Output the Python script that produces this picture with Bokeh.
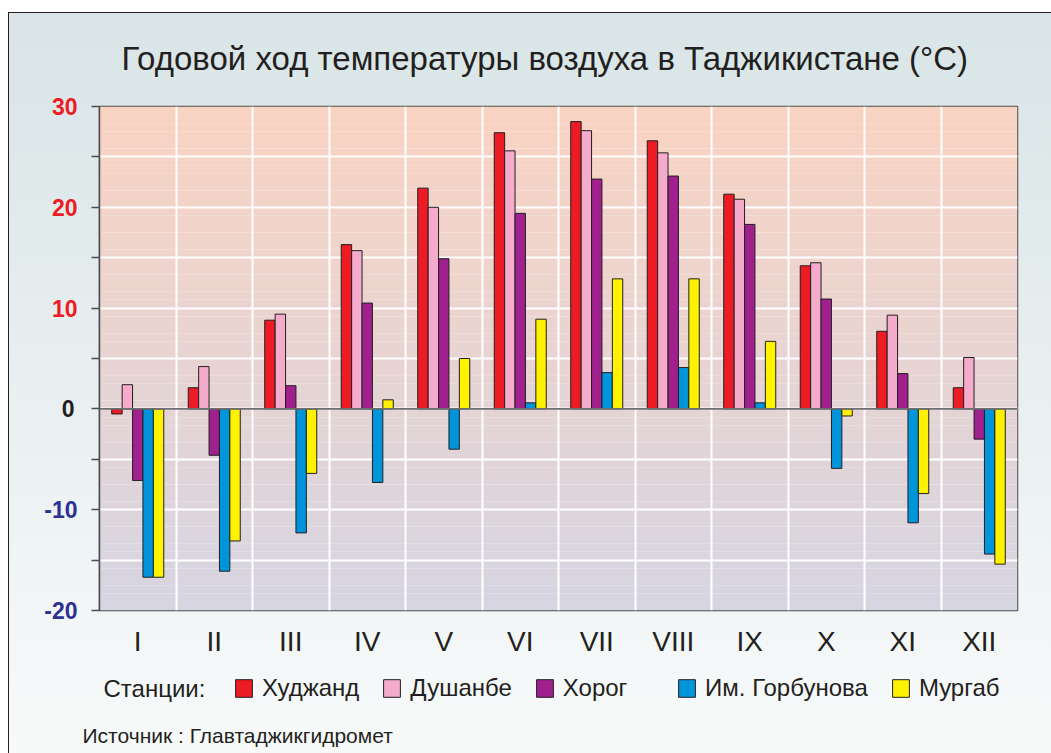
import numpy as np
from bokeh.plotting import figure
from bokeh.layouts import column
from bokeh.models import (ColumnDataSource, FactorRange, Range1d, FixedTicker, LinearAxis,
                          Legend, LegendItem, Span, Label)
from bokeh.transform import dodge
from bokeh.embed import file_html
from bokeh.resources import INLINE

months = ["I", "II", "III", "IV", "V", "VI", "VII", "VIII", "IX", "X", "XI", "XII"]
khujand = [-0.5, 2.1, 8.8, 16.3, 21.9, 27.4, 28.5, 26.6, 21.3, 14.2, 7.7, 2.1]
dushanbe = [2.4, 4.2, 9.4, 15.7, 20.0, 25.6, 27.6, 25.4, 20.8, 14.5, 9.3, 5.1]
khorog = [-7.1, -4.6, 2.3, 10.5, 14.9, 19.4, 22.8, 23.1, 18.3, 10.9, 3.5, -3.0]
gorbunova = [-16.7, -16.1, -12.3, -7.3, -4.0, 0.6, 3.6, 4.1, 0.6, -5.9, -11.3, -14.4]
murgab = [-16.7, -13.1, -6.4, 0.9, 5.0, 8.9, 12.9, 12.9, 6.7, -0.7, -8.4, -15.4]

station_names = ["Худжанд", "Душанбе", "Хорог", "Им. Горбунова", "Мургаб"]
station_colors = ["#ed1c24", "#f5abcc", "#a0218e", "#0095da", "#fff200"]
pos_labels = [30, 20, 10]
zero_label = [0]
neg_labels = [-10, -20]

FONT = "Liberation Sans"
INK = "#231f20"

src = ColumnDataSource(dict(month=months, khujand=khujand, dushanbe=dushanbe,
                            khorog=khorog, gorbunova=gorbunova, murgab=murgab))

p = figure(width=1051, height=660, x_range=FactorRange(factors=months),
           y_range=Range1d(-20, 30), output_backend="svg", toolbar_location=None,
           min_border_left=99, min_border_right=34, min_border_top=106, min_border_bottom=50)
p.border_fill_alpha = 0

# gradient plot background (decorative)
top_c = np.array([0xf9, 0xd3, 0xc2])
bot_c = np.array([0xd6, 0xd5, 0xe2])
n = 60
edges = np.linspace(-20, 30, n + 1)
cols = []
for i in range(n):
    f = ((edges[i] + edges[i + 1]) / 2 + 20) / 50
    c = bot_c + (top_c - bot_c) * f
    cols.append("#%02x%02x%02x" % tuple(int(round(v)) for v in c))
bg = p.quad(left=0, right=len(months), bottom=edges[:-1], top=edges[1:],
            fill_color=cols, line_color=None)
bg.level = "image"

# grid
p.ygrid.ticker = FixedTicker(ticks=list(range(-20, 31, 5)))
p.ygrid.grid_line_color = "white"
p.ygrid.grid_line_width = 2
p.xgrid.ticker = FixedTicker(ticks=list(range(1, len(months))))
p.xgrid.grid_line_color = "white"
p.xgrid.grid_line_width = 2

p.outline_line_color = "#4d4d4f"
p.outline_line_width = 1.5

# bars
w = 0.136
series = ["khujand", "dushanbe", "khorog", "gorbunova", "murgab"]
for i, (s, c) in enumerate(zip(series, station_colors)):
    p.vbar(x=dodge("month", (i - 2) * w, range=p.x_range), top=s, bottom=0, width=w,
           source=src, fill_color=c, line_color=INK, line_width=1)

p.add_layout(Span(location=0, dimension="width", line_color="#6d6e70", line_width=1.8))

# y axes: inner one with ticks and red labels; two more with shifted labels
ya = p.yaxis[0]
ya.ticker = FixedTicker(ticks=list(range(-20, 31, 5)))
ya.major_label_overrides = {t: (str(t) if t in pos_labels else "") for t in range(-20, 31, 5)}
ya.axis_line_color = "#4d4d4f"
ya.axis_line_width = 1.5
ya.major_tick_line_color = "#4d4d4f"
ya.major_tick_line_width = 1.5
ya.major_tick_out = 8
ya.major_tick_in = 0
ya.minor_tick_line_color = None
ya.major_label_standoff = 14
ya.major_label_text_font = FONT
ya.major_label_text_font_size = "23px"
ya.major_label_text_font_style = "bold"
ya.major_label_text_color = "#ed1c24"

yneg = LinearAxis(ticker=FixedTicker(ticks=neg_labels), axis_line_color=None,
                  major_label_overrides={t: str(t) for t in neg_labels},
                  major_tick_line_color=None, minor_tick_line_color=None,
                  major_tick_out=0, major_tick_in=0, minor_tick_out=0, minor_tick_in=0,
                  major_label_standoff=-29, major_label_text_font=FONT,
                  major_label_text_font_size="23px", major_label_text_font_style="bold",
                  major_label_text_color="#2e3192")
p.add_layout(yneg, "left")
yzero = LinearAxis(ticker=FixedTicker(ticks=zero_label), axis_line_color=None,
                   major_tick_line_color=None, minor_tick_line_color=None,
                   major_tick_out=0, major_tick_in=0, minor_tick_out=0, minor_tick_in=0,
                   major_label_standoff=-33, major_label_text_font=FONT,
                   major_label_text_font_size="23px", major_label_text_font_style="bold",
                   major_label_text_color=INK)
p.add_layout(yzero, "left")

# x axis
p.xaxis.axis_line_color = None
p.xaxis.major_tick_line_color = None
p.xaxis.major_tick_out = 0
p.xaxis.major_label_text_font = FONT
p.xaxis.major_label_text_font_size = "28px"
p.xaxis.major_label_text_color = INK
p.xaxis.major_label_standoff = 15

# title
p.title.text = "Годовой ход температуры воздуха в Таджикистане (°C)\u00a0\u00a0\u00a0"
p.title.align = "center"
p.title.text_font = FONT
p.title.text_font_size = "33px"
p.title.text_font_style = "normal"
p.title.text_color = INK
p.title.standoff = 60

# bottom strip: legend row and source
can_unalign = "frame_align" in figure().properties()
xr = Range1d(0, 1051) if can_unalign else Range1d(99, 1017)
q = figure(width=1051, height=93, x_range=xr, y_range=Range1d(0, 93),
           output_backend="svg", toolbar_location=None, min_border=0,
           x_axis_location=None, y_axis_location=None)
if can_unalign:
    q.frame_align = False
q.grid.visible = False
q.outline_line_color = None
q.background_fill_alpha = 0
q.border_fill_alpha = 0

# legend keys: one hidden sample per station (outside the visible range)
swatches = [q.vbar(x=[-50], top=[-10], bottom=[-20], width=1, fill_color=c,
                   line_color=INK, line_width=1) for c in station_colors]
labels = [station_names[0], station_names[1], station_names[2] + "    ",
          station_names[3], station_names[4]]
legend_x = 233 if can_unalign else 233 - 99
legend = Legend(items=[LegendItem(label=l, renderers=[r]) for l, r in zip(labels, swatches)],
                orientation="horizontal", location=(legend_x, 51),
                background_fill_alpha=0, border_line_color=None,
                glyph_width=21, glyph_height=22, label_standoff=8, spacing=22,
                padding=0, margin=0, label_text_font=FONT, label_text_font_size="24px",
                label_text_color=INK)
q.add_layout(legend)

q.add_layout(Label(x=103, y=65, text="Станции:", text_align="left", text_baseline="middle",
                   text_font=FONT, text_font_size="24px", text_color=INK))
q.add_layout(Label(x=82 if can_unalign else 100, y=18, text="Источник : Главтаджикгидромет",
                   text_align="left", text_baseline="middle", text_font=FONT,
                   text_font_size="21px", text_color=INK))

page = column(p, q, spacing=0,
              styles={"background": "linear-gradient(#d8e4e6, #f8fafa)",
                      "box-shadow": "inset 8px 12px 0 #ffffff, inset 9px 13px 0 #231f20"})

open("out.html", "w").write(file_html(page, INLINE))
